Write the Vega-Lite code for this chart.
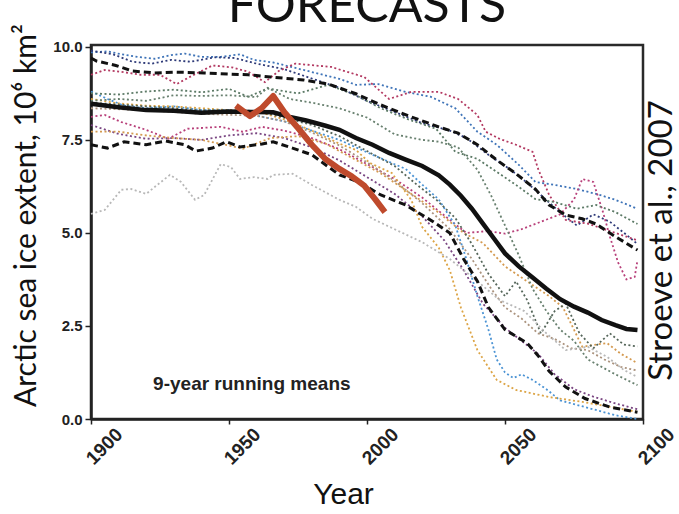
{
  "$schema": "https://vega.github.io/schema/vega-lite/v6.json",
  "width": 552,
  "height": 374,
  "autosize": {"type": "none"},
  "padding": {"left": 91, "top": 45, "right": 36, "bottom": 95},
  "background": "white",
  "title": {"text": "FORECASTS", "fontSize": 50, "font": "Lato", "fontWeight": "normal", "color": "#111", "anchor": "middle", "offset": -8},
  "config": {"view": {"stroke": "#2a2a2a", "strokeWidth": 2.5}},
  "datasets": {
    "models": [
      {"series":"blueTop","year":1900,"extent":9.85},{"series":"blueTop","year":1906,"extent":9.88},{"series":"blueTop","year":1911,"extent":9.8},{"series":"blueTop","year":1917,"extent":9.73},{"series":"blueTop","year":1923,"extent":9.68},{"series":"blueTop","year":1929,"extent":9.78},{"series":"blueTop","year":1934,"extent":9.82},{"series":"blueTop","year":1940,"extent":9.73},{"series":"blueTop","year":1947,"extent":9.73},{"series":"blueTop","year":1954,"extent":9.8},{"series":"blueTop","year":1959,"extent":9.65},{"series":"blueTop","year":1966,"extent":9.58},{"series":"blueTop","year":1977,"extent":9.38},{"series":"blueTop","year":1990,"extent":9.14},{"series":"blueTop","year":1996,"extent":8.98},{"series":"blueTop","year":2004,"extent":9.0},{"series":"blueTop","year":2014,"extent":8.79},{"series":"blueTop","year":2023,"extent":8.66},{"series":"blueTop","year":2032,"extent":8.35},{"series":"blueTop","year":2040,"extent":7.72},{"series":"blueTop","year":2047,"extent":7.37},{"series":"blueTop","year":2055,"extent":6.83},{"series":"blueTop","year":2061,"extent":6.37},{"series":"blueTop","year":2068,"extent":6.29},{"series":"blueTop","year":2076,"extent":6.18},{"series":"blueTop","year":2083,"extent":6.05},{"series":"blueTop","year":2090,"extent":5.89},{"series":"blueTop","year":2098,"extent":5.65},
      {"series":"navy","year":1900,"extent":9.9},{"series":"navy","year":1908,"extent":9.8},{"series":"navy","year":1915,"extent":9.6},{"series":"navy","year":1922,"extent":9.55},{"series":"navy","year":1929,"extent":9.65},{"series":"navy","year":1936,"extent":9.6},{"series":"navy","year":1945,"extent":9.72},{"series":"navy","year":1952,"extent":9.7},{"series":"navy","year":1960,"extent":9.55},{"series":"navy","year":1970,"extent":9.4},{"series":"navy","year":1980,"extent":9.15},{"series":"navy","year":1990,"extent":8.9},{"series":"navy","year":2000,"extent":8.55},{"series":"navy","year":2010,"extent":8.25},{"series":"navy","year":2020,"extent":7.95},{"series":"navy","year":2030,"extent":7.75},{"series":"navy","year":2036,"extent":7.55},{"series":"navy","year":2044,"extent":7.1},{"series":"navy","year":2052,"extent":6.7},{"series":"navy","year":2058,"extent":6.35},{"series":"navy","year":2064,"extent":5.95},{"series":"navy","year":2070,"extent":5.55},{"series":"navy","year":2076,"extent":5.2},{"series":"navy","year":2082,"extent":5.5},{"series":"navy","year":2088,"extent":5.3},{"series":"navy","year":2094,"extent":4.95},{"series":"navy","year":2098,"extent":4.7},
      {"series":"magentaTop","year":1900,"extent":9.25},{"series":"magentaTop","year":1905,"extent":9.38},{"series":"magentaTop","year":1911,"extent":9.33},{"series":"magentaTop","year":1918,"extent":9.25},{"series":"magentaTop","year":1925,"extent":9.25},{"series":"magentaTop","year":1931,"extent":9.0},{"series":"magentaTop","year":1936,"extent":9.2},{"series":"magentaTop","year":1944,"extent":9.5},{"series":"magentaTop","year":1951,"extent":9.45},{"series":"magentaTop","year":1957,"extent":9.33},{"series":"magentaTop","year":1963,"extent":9.05},{"series":"magentaTop","year":1968,"extent":9.35},{"series":"magentaTop","year":1974,"extent":9.55},{"series":"magentaTop","year":1987,"extent":9.46},{"series":"magentaTop","year":1999,"extent":9.19},{"series":"magentaTop","year":2008,"extent":8.6},{"series":"magentaTop","year":2016,"extent":8.79},{"series":"magentaTop","year":2026,"extent":8.79},{"series":"magentaTop","year":2033,"extent":8.6},{"series":"magentaTop","year":2040,"extent":8.17},{"series":"magentaTop","year":2043,"extent":7.72},{"series":"magentaTop","year":2048,"extent":7.53},{"series":"magentaTop","year":2054,"extent":7.37},{"series":"magentaTop","year":2060,"extent":7.18},{"series":"magentaTop","year":2062,"extent":6.72},{"series":"magentaTop","year":2066,"extent":6.02},{"series":"magentaTop","year":2072,"extent":5.35},{"series":"magentaTop","year":2080,"extent":5.25},{"series":"magentaTop","year":2088,"extent":5.05},{"series":"magentaTop","year":2098,"extent":4.8},
      {"series":"magentaLow","year":1900,"extent":8.12},{"series":"magentaLow","year":1905,"extent":8.17},{"series":"magentaLow","year":1911,"extent":7.98},{"series":"magentaLow","year":1920,"extent":7.77},{"series":"magentaLow","year":1928,"extent":7.53},{"series":"magentaLow","year":1935,"extent":7.8},{"series":"magentaLow","year":1947,"extent":7.85},{"series":"magentaLow","year":1955,"extent":7.72},{"series":"magentaLow","year":1962,"extent":7.85},{"series":"magentaLow","year":1970,"extent":7.75},{"series":"magentaLow","year":1980,"extent":7.55},{"series":"magentaLow","year":1990,"extent":7.25},{"series":"magentaLow","year":2000,"extent":6.85},{"series":"magentaLow","year":2010,"extent":6.45},{"series":"magentaLow","year":2020,"extent":5.95},{"series":"magentaLow","year":2030,"extent":5.35},{"series":"magentaLow","year":2036,"extent":5.0},{"series":"magentaLow","year":2044,"extent":5.05},{"series":"magentaLow","year":2050,"extent":4.98},{"series":"magentaLow","year":2056,"extent":5.1},{"series":"magentaLow","year":2063,"extent":5.3},{"series":"magentaLow","year":2070,"extent":5.5},{"series":"magentaLow","year":2075,"extent":5.9},{"series":"magentaLow","year":2078,"extent":6.45},{"series":"magentaLow","year":2082,"extent":6.37},{"series":"magentaLow","year":2085.5,"extent":5.56},{"series":"magentaLow","year":2088,"extent":4.9},{"series":"magentaLow","year":2091,"extent":4.2},{"series":"magentaLow","year":2094,"extent":3.75},{"series":"magentaLow","year":2097,"extent":3.82},{"series":"magentaLow","year":2098,"extent":4.27},
      {"series":"purple","year":1900,"extent":7.9},{"series":"purple","year":1910,"extent":7.66},{"series":"purple","year":1920,"extent":7.53},{"series":"purple","year":1930,"extent":7.55},{"series":"purple","year":1940,"extent":7.5},{"series":"purple","year":1950,"extent":7.62},{"series":"purple","year":1960,"extent":7.68},{"series":"purple","year":1970,"extent":7.55},{"series":"purple","year":1980,"extent":7.3},{"series":"purple","year":1990,"extent":6.95},{"series":"purple","year":2000,"extent":6.5},{"series":"purple","year":2010,"extent":6.05},{"series":"purple","year":2020,"extent":5.45},{"series":"purple","year":2028,"extent":4.8},{"series":"purple","year":2035,"extent":4.0},{"series":"purple","year":2042,"extent":3.1},{"series":"purple","year":2050,"extent":2.45},{"series":"purple","year":2056,"extent":2.1},{"series":"purple","year":2062,"extent":1.75},{"series":"purple","year":2068,"extent":1.2},{"series":"purple","year":2075,"extent":0.8},{"series":"purple","year":2082,"extent":0.6},{"series":"purple","year":2090,"extent":0.42},{"series":"purple","year":2098,"extent":0.26},
      {"series":"blueLight","year":1900,"extent":8.8},{"series":"blueLight","year":1906,"extent":8.6},{"series":"blueLight","year":1912,"extent":8.42},{"series":"blueLight","year":1920,"extent":8.35},{"series":"blueLight","year":1930,"extent":8.4},{"series":"blueLight","year":1940,"extent":8.3},{"series":"blueLight","year":1950,"extent":8.3},{"series":"blueLight","year":1960,"extent":8.15},{"series":"blueLight","year":1970,"extent":8.0},{"series":"blueLight","year":1980,"extent":7.75},{"series":"blueLight","year":1990,"extent":7.5},{"series":"blueLight","year":2002,"extent":7.1},{"series":"blueLight","year":2014,"extent":6.72},{"series":"blueLight","year":2020,"extent":6.3},{"series":"blueLight","year":2026,"extent":5.9},{"series":"blueLight","year":2032,"extent":5.2},{"series":"blueLight","year":2036,"extent":4.3},{"series":"blueLight","year":2040,"extent":3.3},{"series":"blueLight","year":2044,"extent":2.4},{"series":"blueLight","year":2047,"extent":1.6},{"series":"blueLight","year":2050,"extent":1.25},{"series":"blueLight","year":2053,"extent":1.1},{"series":"blueLight","year":2056,"extent":1.2},{"series":"blueLight","year":2060,"extent":1.05},{"series":"blueLight","year":2065,"extent":0.8},{"series":"blueLight","year":2070,"extent":0.5},{"series":"blueLight","year":2080,"extent":0.3},{"series":"blueLight","year":2090,"extent":0.1},{"series":"blueLight","year":2098,"extent":0.0},
      {"series":"orange1","year":1900,"extent":8.6},{"series":"orange1","year":1910,"extent":8.48},{"series":"orange1","year":1920,"extent":8.42},{"series":"orange1","year":1930,"extent":8.4},{"series":"orange1","year":1940,"extent":8.35},{"series":"orange1","year":1950,"extent":8.3},{"series":"orange1","year":1960,"extent":8.27},{"series":"orange1","year":1970,"extent":8.05},{"series":"orange1","year":1980,"extent":7.75},{"series":"orange1","year":1990,"extent":7.4},{"series":"orange1","year":1996,"extent":7.23},{"series":"orange1","year":2001,"extent":6.88},{"series":"orange1","year":2009,"extent":6.61},{"series":"orange1","year":2016,"extent":5.89},{"series":"orange1","year":2020,"extent":5.16},{"series":"orange1","year":2026,"extent":4.6},{"series":"orange1","year":2030,"extent":4.0},{"series":"orange1","year":2034,"extent":3.0},{"series":"orange1","year":2040,"extent":1.85},{"series":"orange1","year":2047,"extent":1.05},{"series":"orange1","year":2054,"extent":0.78},{"series":"orange1","year":2066,"extent":0.59},{"series":"orange1","year":2078,"extent":0.46},{"series":"orange1","year":2090,"extent":0.3},{"series":"orange1","year":2098,"extent":0.19},
      {"series":"orange2","year":1900,"extent":7.72},{"series":"orange2","year":1910,"extent":7.72},{"series":"orange2","year":1920,"extent":7.62},{"series":"orange2","year":1930,"extent":7.55},{"series":"orange2","year":1940,"extent":7.5},{"series":"orange2","year":1950,"extent":7.35},{"series":"orange2","year":1955,"extent":7.26},{"series":"orange2","year":1965,"extent":7.55},{"series":"orange2","year":1975,"extent":7.6},{"series":"orange2","year":1985,"extent":7.4},{"series":"orange2","year":1995,"extent":7.0},{"series":"orange2","year":2005,"extent":6.6},{"series":"orange2","year":2015,"extent":6.1},{"series":"orange2","year":2025,"extent":5.6},{"series":"orange2","year":2035,"extent":5.0},{"series":"orange2","year":2042,"extent":4.73},{"series":"orange2","year":2050,"extent":4.1},{"series":"orange2","year":2056,"extent":3.8},{"series":"orange2","year":2061,"extent":3.55},{"series":"orange2","year":2066,"extent":3.3},{"series":"orange2","year":2071,"extent":3.0},{"series":"orange2","year":2075,"extent":2.4},{"series":"orange2","year":2078,"extent":1.94},{"series":"orange2","year":2083,"extent":2.0},{"series":"orange2","year":2087,"extent":2.04},{"series":"orange2","year":2092,"extent":1.75},{"series":"orange2","year":2098,"extent":1.5},
      {"series":"greenUpper","year":1900,"extent":8.75},{"series":"greenUpper","year":1910,"extent":8.72},{"series":"greenUpper","year":1920,"extent":8.8},{"series":"greenUpper","year":1930,"extent":8.85},{"series":"greenUpper","year":1940,"extent":8.78},{"series":"greenUpper","year":1950,"extent":8.87},{"series":"greenUpper","year":1957,"extent":8.66},{"series":"greenUpper","year":1964,"extent":8.88},{"series":"greenUpper","year":1975,"extent":8.75},{"series":"greenUpper","year":1986,"extent":8.98},{"series":"greenUpper","year":1996,"extent":8.7},{"series":"greenUpper","year":2005,"extent":8.35},{"series":"greenUpper","year":2015,"extent":8.05},{"series":"greenUpper","year":2025,"extent":7.8},{"series":"greenUpper","year":2032,"extent":7.18},{"series":"greenUpper","year":2040,"extent":6.99},{"series":"greenUpper","year":2047,"extent":6.64},{"series":"greenUpper","year":2054,"extent":6.29},{"series":"greenUpper","year":2061,"extent":5.91},{"series":"greenUpper","year":2068,"extent":5.83},{"series":"greenUpper","year":2076,"extent":5.65},{"series":"greenUpper","year":2083,"extent":5.75},{"series":"greenUpper","year":2090,"extent":5.56},{"series":"greenUpper","year":2098,"extent":5.24},
      {"series":"greenMid","year":1900,"extent":8.55},{"series":"greenMid","year":1910,"extent":8.6},{"series":"greenMid","year":1920,"extent":8.55},{"series":"greenMid","year":1930,"extent":8.7},{"series":"greenMid","year":1940,"extent":8.68},{"series":"greenMid","year":1950,"extent":8.7},{"series":"greenMid","year":1960,"extent":8.65},{"series":"greenMid","year":1964,"extent":8.9},{"series":"greenMid","year":1972,"extent":8.6},{"series":"greenMid","year":1980,"extent":8.5},{"series":"greenMid","year":1990,"extent":8.35},{"series":"greenMid","year":2000,"extent":8.1},{"series":"greenMid","year":2010,"extent":7.65},{"series":"greenMid","year":2020,"extent":7.5},{"series":"greenMid","year":2026,"extent":7.45},{"series":"greenMid","year":2033,"extent":7.3},{"series":"greenMid","year":2040,"extent":6.7},{"series":"greenMid","year":2045,"extent":6.0},{"series":"greenMid","year":2050,"extent":5.2},{"series":"greenMid","year":2055,"extent":4.4},{"series":"greenMid","year":2060,"extent":3.5},{"series":"greenMid","year":2065,"extent":2.9},{"series":"greenMid","year":2070,"extent":2.4},{"series":"greenMid","year":2075,"extent":2.1},{"series":"greenMid","year":2080,"extent":1.6},{"series":"greenMid","year":2085,"extent":1.4},{"series":"greenMid","year":2090,"extent":1.2},{"series":"greenMid","year":2098,"extent":0.91},
      {"series":"greenSteep","year":1900,"extent":8.5},{"series":"greenSteep","year":1920,"extent":8.4},{"series":"greenSteep","year":1940,"extent":8.3},{"series":"greenSteep","year":1960,"extent":8.28},{"series":"greenSteep","year":1970,"extent":8.1},{"series":"greenSteep","year":1980,"extent":7.9},{"series":"greenSteep","year":1990,"extent":7.6},{"series":"greenSteep","year":2000,"extent":7.2},{"series":"greenSteep","year":2010,"extent":6.8},{"series":"greenSteep","year":2018,"extent":6.3},{"series":"greenSteep","year":2025,"extent":5.9},{"series":"greenSteep","year":2032,"extent":5.4},{"series":"greenSteep","year":2038,"extent":4.7},{"series":"greenSteep","year":2044,"extent":3.9},{"series":"greenSteep","year":2050,"extent":3.3},{"series":"greenSteep","year":2054,"extent":3.7},{"series":"greenSteep","year":2058,"extent":3.2},{"series":"greenSteep","year":2063,"extent":2.3},{"series":"greenSteep","year":2068,"extent":2.9},{"series":"greenSteep","year":2072,"extent":3.1},{"series":"greenSteep","year":2077,"extent":2.3},{"series":"greenSteep","year":2082,"extent":1.9},{"series":"greenSteep","year":2088,"extent":2.3},{"series":"greenSteep","year":2093,"extent":2.0},{"series":"greenSteep","year":2098,"extent":1.95},
      {"series":"tan","year":1900,"extent":8.35},{"series":"tan","year":1920,"extent":8.3},{"series":"tan","year":1940,"extent":8.2},{"series":"tan","year":1960,"extent":8.15},{"series":"tan","year":1970,"extent":8.0},{"series":"tan","year":1980,"extent":7.7},{"series":"tan","year":1990,"extent":7.35},{"series":"tan","year":2000,"extent":6.9},{"series":"tan","year":2010,"extent":6.4},{"series":"tan","year":2020,"extent":5.8},{"series":"tan","year":2030,"extent":5.1},{"series":"tan","year":2038,"extent":4.3},{"series":"tan","year":2045,"extent":3.5},{"series":"tan","year":2050,"extent":3.0},{"series":"tan","year":2056,"extent":2.7},{"series":"tan","year":2062,"extent":2.3},{"series":"tan","year":2068,"extent":2.15},{"series":"tan","year":2074,"extent":1.9},{"series":"tan","year":2080,"extent":1.85},{"series":"tan","year":2086,"extent":1.6},{"series":"tan","year":2092,"extent":1.4},{"series":"tan","year":2098,"extent":1.3},
      {"series":"lightGray","year":1900,"extent":5.51},{"series":"lightGray","year":1905,"extent":5.62},{"series":"lightGray","year":1911,"extent":6.16},{"series":"lightGray","year":1914.5,"extent":6.18},{"series":"lightGray","year":1920,"extent":6.05},{"series":"lightGray","year":1924,"extent":6.29},{"series":"lightGray","year":1928.6,"extent":6.56},{"series":"lightGray","year":1932.6,"extent":6.37},{"series":"lightGray","year":1937.7,"extent":5.89},{"series":"lightGray","year":1941,"extent":6.02},{"series":"lightGray","year":1947,"extent":6.85},{"series":"lightGray","year":1950.7,"extent":6.77},{"series":"lightGray","year":1954,"extent":6.45},{"series":"lightGray","year":1959,"extent":6.5},{"series":"lightGray","year":1964,"extent":6.45},{"series":"lightGray","year":1966,"extent":6.56},{"series":"lightGray","year":1973,"extent":6.59},{"series":"lightGray","year":1980,"extent":6.29},{"series":"lightGray","year":1990,"extent":5.89},{"series":"lightGray","year":1996,"extent":5.7},{"series":"lightGray","year":2002,"extent":5.38},{"series":"lightGray","year":2010,"extent":5.1},{"series":"lightGray","year":2020,"extent":4.75},{"series":"lightGray","year":2030,"extent":4.3},{"series":"lightGray","year":2040,"extent":3.7},{"series":"lightGray","year":2048,"extent":3.2},{"series":"lightGray","year":2057,"extent":2.9},{"series":"lightGray","year":2065,"extent":2.3},{"series":"lightGray","year":2072,"extent":1.85},{"series":"lightGray","year":2080,"extent":1.94},{"series":"lightGray","year":2087,"extent":1.67},{"series":"lightGray","year":2093,"extent":1.32},{"series":"lightGray","year":2098,"extent":1.13}
    ],
    "sd": [
      {"series":"hi","year":1900,"extent":9.7},{"series":"hi","year":1902,"extent":9.62},{"series":"hi","year":1909,"extent":9.5},{"series":"hi","year":1915,"extent":9.35},{"series":"hi","year":1923,"extent":9.3},{"series":"hi","year":1931,"extent":9.32},{"series":"hi","year":1941,"extent":9.3},{"series":"hi","year":1950,"extent":9.27},{"series":"hi","year":1957,"extent":9.25},{"series":"hi","year":1965,"extent":9.19},{"series":"hi","year":1977,"extent":9.11},{"series":"hi","year":1986,"extent":9.0},{"series":"hi","year":1996,"extent":8.74},{"series":"hi","year":2005,"extent":8.44},{"series":"hi","year":2016,"extent":8.12},{"series":"hi","year":2026,"extent":7.85},{"series":"hi","year":2033,"extent":7.68},{"series":"hi","year":2040,"extent":7.37},{"series":"hi","year":2047,"extent":6.96},{"series":"hi","year":2054,"extent":6.59},{"series":"hi","year":2061,"extent":6.18},{"series":"hi","year":2066,"extent":5.75},{"series":"hi","year":2072,"extent":5.48},{"series":"hi","year":2078,"extent":5.38},{"series":"hi","year":2083,"extent":5.24},{"series":"hi","year":2090,"extent":4.9},{"series":"hi","year":2098,"extent":4.54},
      {"series":"lo","year":1900,"extent":7.37},{"series":"lo","year":1906,"extent":7.28},{"series":"lo","year":1912,"extent":7.45},{"series":"lo","year":1920,"extent":7.37},{"series":"lo","year":1927,"extent":7.47},{"series":"lo","year":1934,"extent":7.37},{"series":"lo","year":1938,"extent":7.2},{"series":"lo","year":1944,"extent":7.28},{"series":"lo","year":1949,"extent":7.45},{"series":"lo","year":1954,"extent":7.31},{"series":"lo","year":1962,"extent":7.39},{"series":"lo","year":1966,"extent":7.45},{"series":"lo","year":1973,"extent":7.28},{"series":"lo","year":1980,"extent":7.1},{"series":"lo","year":1990,"extent":6.56},{"series":"lo","year":1997,"extent":6.37},{"series":"lo","year":2005,"extent":6.02},{"series":"lo","year":2014,"extent":5.75},{"series":"lo","year":2024,"extent":5.3},{"series":"lo","year":2030,"extent":5.0},{"series":"lo","year":2035,"extent":4.3},{"series":"lo","year":2040,"extent":3.7},{"series":"lo","year":2044,"extent":3.0},{"series":"lo","year":2050,"extent":2.4},{"series":"lo","year":2058,"extent":2.04},{"series":"lo","year":2062,"extent":1.7},{"series":"lo","year":2066,"extent":1.28},{"series":"lo","year":2072,"extent":0.86},{"series":"lo","year":2079,"extent":0.55},{"series":"lo","year":2088,"extent":0.32},{"series":"lo","year":2098,"extent":0.18}
    ],
    "mean": [
      {"year":1900,"extent":8.47},{"year":1910,"extent":8.38},{"year":1920,"extent":8.3},{"year":1930,"extent":8.28},{"year":1940,"extent":8.23},{"year":1950,"extent":8.26},{"year":1958,"extent":8.25},{"year":1966,"extent":8.24},{"year":1972,"extent":8.12},{"year":1978,"extent":8.02},{"year":1985,"extent":7.88},{"year":1990,"extent":7.77},{"year":1996,"extent":7.55},{"year":2002,"extent":7.37},{"year":2008,"extent":7.15},{"year":2014,"extent":6.97},{"year":2020,"extent":6.8},{"year":2026,"extent":6.55},{"year":2030,"extent":6.3},{"year":2034,"extent":6.0},{"year":2038,"extent":5.65},{"year":2042,"extent":5.25},{"year":2046,"extent":4.85},{"year":2050,"extent":4.45},{"year":2055,"extent":4.1},{"year":2060,"extent":3.8},{"year":2065,"extent":3.5},{"year":2070,"extent":3.22},{"year":2075,"extent":3.02},{"year":2080,"extent":2.86},{"year":2085,"extent":2.66},{"year":2090,"extent":2.52},{"year":2094,"extent":2.42},{"year":2098,"extent":2.39}
    ],
    "obs": [
      {"year":1952.5,"extent":8.42},{"year":1957.6,"extent":8.14},{"year":1961.8,"extent":8.35},{"year":1966,"extent":8.68},{"year":1970,"extent":8.25},{"year":1975,"extent":7.82},{"year":1980,"extent":7.37},{"year":1985,"extent":6.98},{"year":1990,"extent":6.72},{"year":1994.5,"extent":6.52},{"year":1999,"extent":6.27},{"year":2003,"extent":5.9},{"year":2006.5,"extent":5.56}
    ],
    "note": [{"year":1922.5,"extent":0.78,"label":"9-year running means"}]
  },
  "encoding": {
    "x": {
      "field": "year", "type": "quantitative",
      "scale": {"domain": [1900, 2100], "nice": false, "zero": false},
      "axis": {
        "values": [1900, 1950, 2000, 2050, 2100], "format": "d", "grid": false,
        "labelAngle": -45, "labelAlign": "center", "labelBaseline": "middle",
        "labelPadding": 22, "labelOffset": 13,
        "labelFont": "Liberation Sans", "labelFontWeight": "bold", "labelFontSize": 19, "labelColor": "#222",
        "tickSize": 5, "tickColor": "#222", "tickWidth": 1.5,
        "domainColor": "#222", "domainWidth": 2.5,
        "title": "Year", "titleFont": "Liberation Sans", "titleFontWeight": "normal", "titleFontSize": 30, "titleColor": "#111",
        "titleX": 252, "titleY": 84, "titleBaseline": "alphabetic", "titleAlign": "center"
      }
    }
  },
  "layer": [
    {
      "data": {"name": "models"},
      "mark": {"type": "line", "strokeWidth": 1.8, "strokeDash": [2, 2.5], "strokeCap": "butt"},
      "encoding": {
        "y": {
          "field": "extent", "type": "quantitative",
          "scale": {"domain": [0, 10.05], "nice": false, "zero": true},
          "axis": {
            "values": [0, 2.5, 5, 7.5, 10], "format": ".1f", "grid": false,
            "labelFont": "Liberation Sans", "labelFontWeight": "bold", "labelFontSize": 15, "labelColor": "#222", "labelPadding": 3,
            "tickSize": 6, "tickColor": "#222", "tickWidth": 1.5,
            "domainColor": "#222", "domainWidth": 2.5,
            "title": "Arctic sea ice extent, 10⁶ km²", "titleFont": "Lato", "titleFontWeight": "normal", "titleFontSize": 30, "titleColor": "#111",
            "titleAngle": -90, "titleX": -56, "titleY": 170, "titleBaseline": "alphabetic", "titleAlign": "center"
          }
        },
        "color": {
          "field": "series", "type": "nominal", "legend": null,
          "scale": {
            "domain": ["blueTop","navy","magentaTop","magentaLow","purple","blueLight","orange1","orange2","greenUpper","greenMid","greenSteep","tan","lightGray"],
            "range": ["#3f74b8","#2e3a78","#b33a62","#b8407a","#7a4682","#4b93d4","#dca445","#d49a50","#5c7a66","#68806f","#55665a","#ab937e","#b8b8b8"]
          }
        }
      }
    },
    {
      "data": {"name": "sd"},
      "mark": {"type": "line", "color": "#111", "strokeWidth": 3, "strokeDash": [7, 4]},
      "encoding": {
        "y": {"field": "extent", "type": "quantitative", "axis": null},
        "detail": {"field": "series", "type": "nominal"}
      }
    },
    {
      "data": {"name": "mean"},
      "mark": {"type": "line", "color": "#111", "strokeWidth": 4.5},
      "encoding": {
        "y": {"field": "extent", "type": "quantitative", "axis": null}
      }
    },
    {
      "data": {"name": "obs"},
      "mark": {"type": "line", "color": "#bf4a2c", "strokeWidth": 6, "strokeJoin": "round"},
      "encoding": {
        "y": {
          "field": "extent", "type": "quantitative",
          "axis": {
            "orient": "right", "labels": false, "ticks": false, "domain": false, "grid": false,
            "title": "Stroeve et al., 2007", "titleFont": "Lato", "titleFontWeight": "normal", "titleFontSize": 33, "titleColor": "#111",
            "titleAngle": -90, "titleX": 28, "titleY": 195, "titleBaseline": "alphabetic", "titleAlign": "center"
          }
        }
      }
    },
    {
      "data": {"name": "note"},
      "mark": {"type": "text", "align": "left", "baseline": "alphabetic", "font": "Liberation Sans", "fontWeight": "bold", "fontSize": 19, "color": "#222"},
      "encoding": {
        "y": {"field": "extent", "type": "quantitative", "axis": null},
        "text": {"field": "label"}
      }
    }
  ],
  "resolve": {"axis": {"y": "independent"}}
}
